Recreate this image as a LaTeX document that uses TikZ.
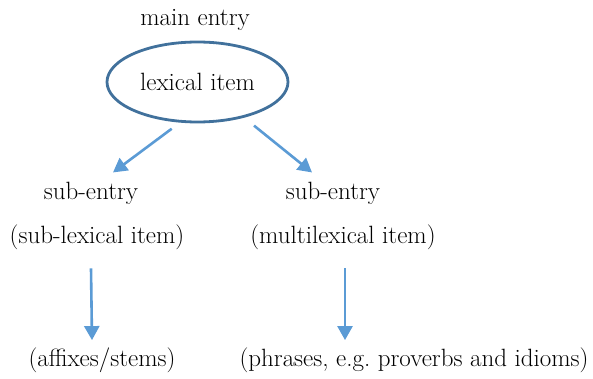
\documentclass[tikz,border=0pt]{standalone}
\usepackage{tikz}
\usetikzlibrary{arrows.meta,shapes.geometric}
\definecolor{ellipseBlue}{HTML}{41719C}
\definecolor{arrowBlue}{HTML}{5B9BD5}
\newcommand{\entrySize}{\fontsize{25}{30}\selectfont}

\begin{document}
\begin{tikzpicture}[x=1pt, y=-1pt,
   entryText/.style={font=\entrySize, inner sep=0pt, anchor=base},
   itemEllipse/.style={draw=ellipseBlue, line width=2.8pt, ellipse,
      minimum width=181pt, minimum height=80pt, inner sep=0pt, font=\entrySize},
   arr/.style={draw=arrowBlue, line width=2.6pt, -{Triangle[length=14pt,width=15pt]}}]
   \useasboundingbox (0,0) rectangle (593,379);

   % main entry
   \node[entryText] (main) at (195,26) {main entry};
   \node[itemEllipse] (lex) at (197.5,82) {lexical item};

   % sub-entries
   \node[entryText] (subL) at (91,200) {sub-entry};
   \node[entryText] (subLx) at (97,243) {(sub-lexical item)};
   \node[entryText] (subR) at (333,200) {sub-entry};
   \node[entryText] (subRx) at (343,243) {(multilexical item)};

   % lowest level
   \node[entryText] (leafL) at (102,366) {(affixes/stems)};
   \node[entryText] (leafR) at (414,366) {(phrases, e.g.\ proverbs and idioms)};

   \draw[arr] ([yshift=-7pt]lex.237) -- ([xshift=22pt,yshift=10pt]subL.north);
   \draw[arr] ([yshift=-11pt]lex.330) -- ([xshift=-21pt,yshift=10pt]subR.north);
   \draw[arr] ([xshift=-6pt,yshift=-19pt]subLx.south) -- ([xshift=-10pt,yshift=7pt]leafL.north);
   \draw[arr] ([xshift=2pt,yshift=-19pt]subRx.south) -- ([xshift=-69pt,yshift=7pt]leafR.north);
\end{tikzpicture}
\end{document}
